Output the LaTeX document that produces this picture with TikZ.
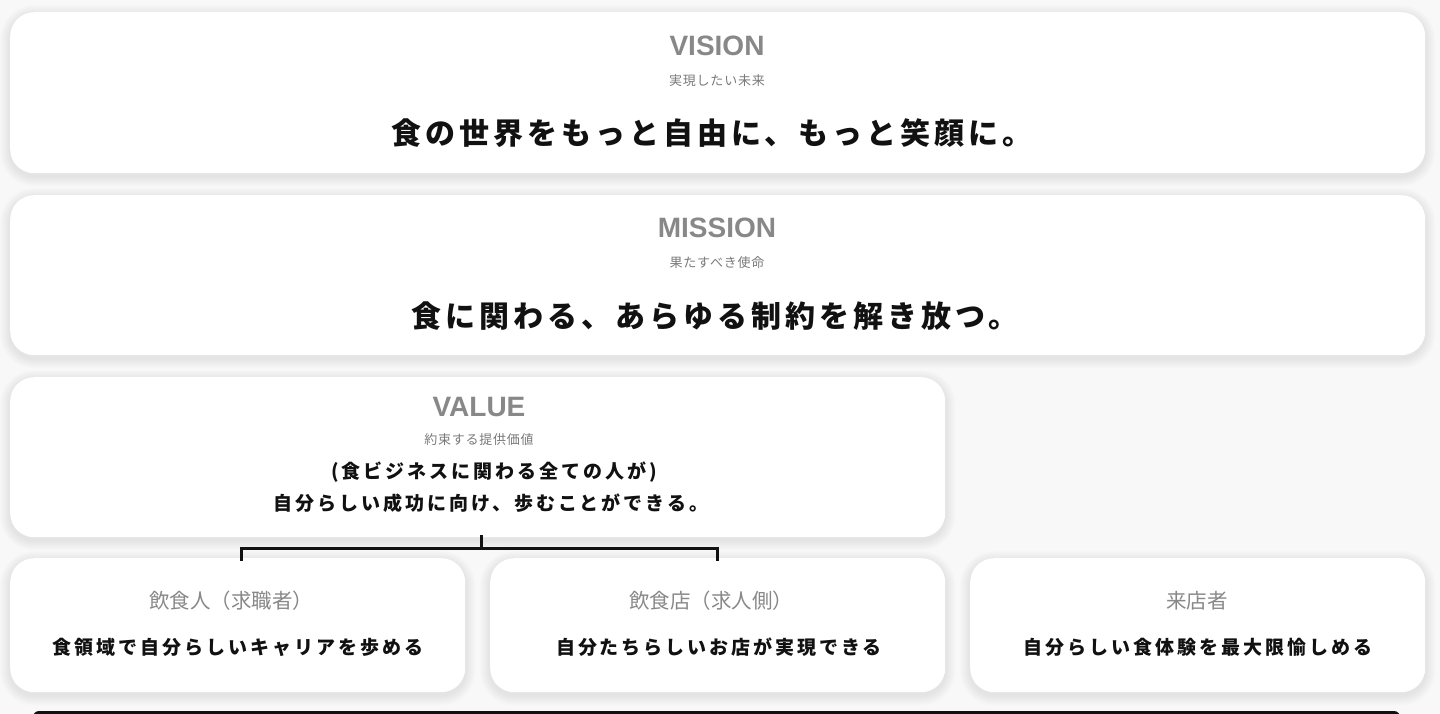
\documentclass[tikz,border=0pt]{standalone}
\usepackage{fontspec}
\setmainfont{Liberation Sans}
\newfontfamily\jp{Noto Sans CJK JP}
\newfontfamily\jpsmall{Noto Sans CJK JP}[LetterSpace=6]
\newfontfamily\jpbig{Noto Sans CJK JP}[LetterSpace=13.5]
\newfontfamily\jpmid{Noto Sans CJK JP}[LetterSpace=15.5]
\usetikzlibrary{backgrounds}
\definecolor{bg}{HTML}{F8F8F8}
\definecolor{lbl}{HTML}{888888}
\definecolor{ink}{HTML}{111111}
\tikzset{
  card/.style={rectangle, rounded corners=24pt, fill=white, inner sep=0pt, anchor=north west},
  head/.style={inner sep=0pt, font=\bfseries\fontsize{28}{30}\selectfont, text=lbl},
  subhead/.style={inner sep=0pt, font=\jpsmall\fontsize{13}{15}\selectfont, text=lbl!90!black},
  bigtext/.style={inner sep=0pt, font=\jpbig\bfseries\fontsize{30}{32}\selectfont, text=ink},
  midtext/.style={inner sep=0pt, font=\jpmid\bfseries\fontsize{19}{21}\selectfont, text=ink},
  cardtitle/.style={inner sep=0pt, font=\jp\fontsize{20.5}{22}\selectfont, text=lbl},
  bracket/.style={draw=ink, line width=3pt, line cap=butt, line join=miter}
}
\begin{document}
\begin{tikzpicture}[x=1pt,y=-1pt]
\useasboundingbox (0,0) rectangle (1440,714);
\clip (0,0) rectangle (1440,714);
% cards
\node[card, minimum width=1415pt, minimum height=161pt] (vis) at (10,12) {};
\node[card, minimum width=1415pt, minimum height=160pt] (mis) at (10,195) {};
\node[card, minimum width=935pt, minimum height=160pt] (val) at (10,377) {};
\node[card, minimum width=455pt, minimum height=134pt] (c1) at (10,558) {};
\node[card, minimum width=455pt, minimum height=134pt] (c2) at (490,558) {};
\node[card, minimum width=455pt, minimum height=134pt] (c3) at (970,558) {};
% background and shadows
\begin{scope}[on background layer]
  \fill[bg] (0,0) rectangle (1440,714);
  \foreach \n in {vis,mis,val,c1,c2,c3}{
    \foreach \i in {1,...,10}{
      \fill[black, opacity=0.007, rounded corners=24+\i]
        ([shift={(-\i,-\i+3)}]\n.north west) rectangle ([shift={(\i,\i+3)}]\n.south east);
    }
  }
\end{scope}
% VISION
\node[head] (visH) at (717,46) {VISION};
\node[subhead] (visS) at (717,81) {実現したい未来};
\node[bigtext] (visT) at (712,133) {食の世界をもっと自由に、もっと笑顔に。};
% MISSION
\node[head] (misH) at (717,228) {MISSION};
\node[subhead] (misS) at (717,263) {果たすべき使命};
\node[bigtext] (misT) at (715,316) {食に関わる、あらゆる制約を解き放つ。};
% VALUE
\node[head] (valH) at (479,407) {VALUE};
\node[subhead] (valS) at (479,440) {約束する提供価値};
\node[midtext] (valT1) at (494,472) {(食ビジネスに関わる全ての人が)};
\node[midtext] (valT2) at (491,503) {自分らしい成功に向け、歩むことができる。};
% bracket
\coordinate (bt) at (481,535);
\coordinate (bm) at (481,548);
\coordinate (bl) at (241,561);
\coordinate (br) at (717,561);
\draw[bracket] (bl) |- (bm) -| (br);
\draw[bracket] (bm) -- (bt);
% bottom cards
\node[cardtitle] (c1H) at (231,601) {飲食人（求職者）};
\node[midtext] (c1T) at (238,647) {食領域で自分らしいキャリアを歩める};
\node[cardtitle] (c2H) at (711,601) {飲食店（求人側）};
\node[midtext] (c2T) at (719,647) {自分たちらしいお店が実現できる};
\node[cardtitle] (c3H) at (1197,601) {来店者};
\node[midtext] (c3T) at (1198,647) {自分らしい食体験を最大限愉しめる};
% dark bar at bottom edge
\fill[ink, rounded corners=6pt] (33,711) rectangle (1400,730);
\end{tikzpicture}
\end{document}
